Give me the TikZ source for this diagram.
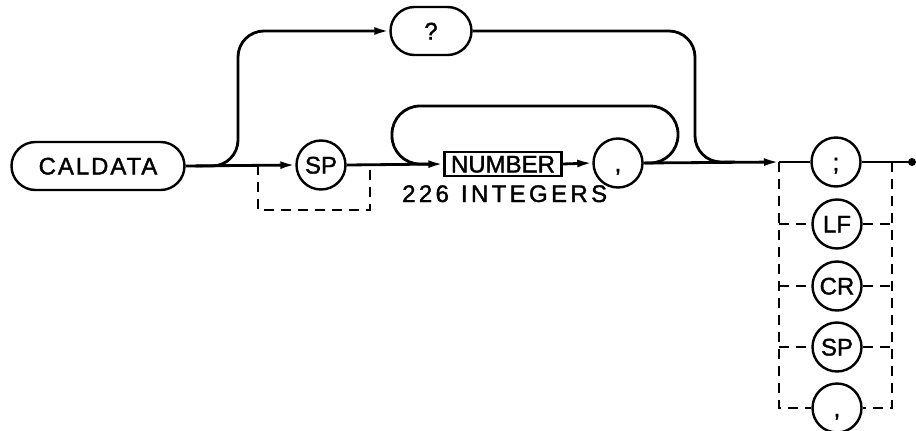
\documentclass[tikz,border=0pt]{standalone}
\usepackage{fontspec}
\setmainfont[FakeBold=1.5]{Liberation Sans}
\usetikzlibrary{arrows.meta,shapes.misc}
\begin{document}
\begin{tikzpicture}[x=1pt,y=-1pt,
  line/.style={line width=2.8pt},
  arr/.style={line, -{Latex[length=15pt,width=8pt]}},
  dsh/.style={line width=2.6pt, dash pattern=on 10pt off 7pt},
  lbl/.style={font=\fontsize{24}{24}\selectfont, text height=17pt, text depth=0pt, inner sep=0pt},
  term/.style={lbl, circle, draw, line width=2.4pt, minimum size=49pt},
  pill/.style={lbl, rounded rectangle, draw, line width=2.4pt, minimum height=48pt},
  box/.style={lbl, rectangle, draw, line width=2.4pt, minimum height=24pt, minimum width=117pt}
]
\useasboundingbox (0,0) rectangle (916,431);

% nodes
\node[pill, minimum width=173pt] (cal) at (98,166) {\addfontfeature{LetterSpace=8}CALDATA};
\node[pill, minimum width=81pt] (q) at (431,31) {?};
\node[term] (sp1) at (321,165) {SP};
\node[box] (num) at (503,164) {NUMBER};
\node[term] (c1) at (618,163) {,};
\node[term] (semi) at (836,162) {;};
\node[term] (lf) at (837,224) {LF};
\node[term] (cr) at (837,286) {CR};
\node[term] (sp2) at (837,347) {SP};
\node[term] (c2) at (837,408) {,};
\node[lbl, anchor=base west] (ints) at (402,202) {\addfontfeature{LetterSpace=14}226\hspace{12pt}INTEGERS};

% coordinates
\coordinate (j1) at (195,166);
\coordinate (lv) at (238,31);
\coordinate (rv) at (695,31);
\coordinate (j2) at (735,162);
\coordinate (la) at (779,162);
\coordinate (rb) at (892,162);
\coordinate (dot) at (912,162);
\coordinate (lp1) at (645,163);
\coordinate (lpr) at (678,106);
\coordinate (lpl) at (392,106);
\coordinate (lp2) at (430,164);
\coordinate (sb1) at (258,165);
\coordinate (sb2) at (370,210);

% main line
\draw[arr] (cal.east) -- (sp1.west);
\draw[arr] (sp1.east) -- (num.west);
\draw[arr] (num.east) -- (c1.west);
\draw[arr] (c1.east) -- (la);
\draw[line] (la) -- (semi.west);
\draw[line] (semi.east) -- (dot);
\fill (dot) circle (4pt);

% top branch
\draw[arr, rounded corners=26pt] (j1) -| (lv) -- (q.west);
\draw[line, rounded corners=26pt] (q.east) -- (rv) |- (j2);

% repeat loop
\draw[line, rounded corners=28pt] (lp1) -| (lpr) -- (lpl) |- (lp2);

% optional SP
\draw[dsh] (sb1) |- (sb2) -- (sb2 |- sb1);

% terminator options
\draw[dsh] (la) |- (c2.west);
\draw[dsh] (rb) |- (c2.east);
\draw[dsh] (la |- lf) -- (lf.west);
\draw[dsh] (lf.east) -- (rb |- lf);
\draw[dsh] (la |- cr) -- (cr.west);
\draw[dsh] (cr.east) -- (rb |- cr);
\draw[dsh] (la |- sp2) -- (sp2.west);
\draw[dsh] (sp2.east) -- (rb |- sp2);
\end{tikzpicture}
\end{document}
